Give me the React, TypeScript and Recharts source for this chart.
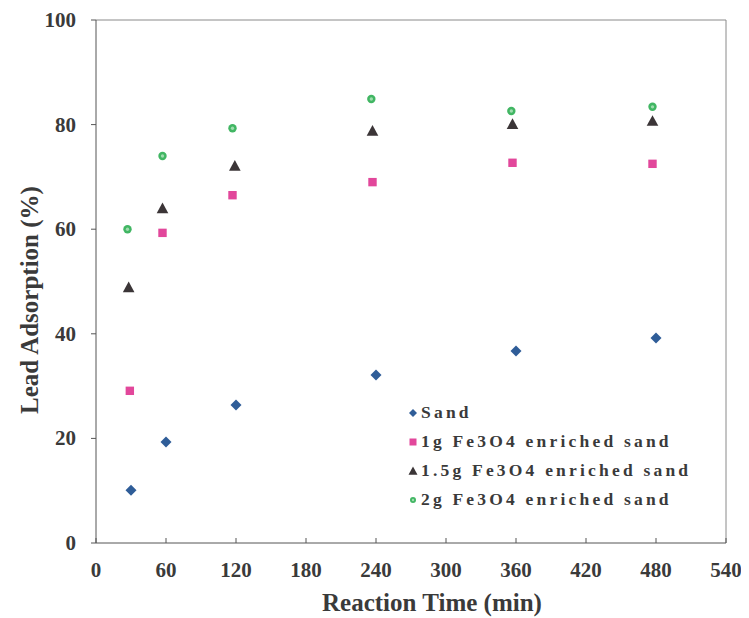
import React from 'react';
import { ScatterChart, Scatter, XAxis, YAxis, ReferenceLine, Legend } from 'recharts';

const xTicks = [0, 60, 120, 180, 240, 300, 360, 420, 480, 540];
const yTicks = [0, 20, 40, 60, 80, 100];

const sandTime = [30, 60, 120, 240, 360, 480];
const sandAds = [10.1, 19.3, 26.4, 32.1, 36.7, 39.2];

const fe1Time = [29, 57, 117, 237, 357, 477];
const fe1Ads = [29.1, 59.3, 66.5, 69.0, 72.7, 72.5];

const fe15Time = [28, 57, 119, 237, 357, 477];
const fe15Ads = [48.9, 64.0, 72.1, 78.8, 80.1, 80.7];

const fe2Time = [27, 57, 117, 236, 356, 477];
const fe2Ads = [60.0, 74.0, 79.3, 84.9, 82.6, 83.4];

const seriesNames = ['Sand', '1g Fe3O4 enriched sand', '1.5g Fe3O4 enriched sand', '2g Fe3O4 enriched sand'];

const toPoints = (xs: number[], ys: number[]) => xs.map((x, i) => ({ x, y: ys[i] }));

const TEXT = '#3a3a3a';
const FONT = '"Liberation Serif", "Times New Roman", serif';

const BLUE = '#2f5d98';
const PINK = '#e2479b';
const DARK = '#3b3537';
const GREEN = '#41b663';

function Diamond({ cx, cy, r = 5.5 }: any) {
  return <polygon points={`${cx},${cy - r} ${cx + r},${cy} ${cx},${cy + r} ${cx - r},${cy}`} fill={BLUE} />;
}
function Square({ cx, cy, r = 4.2 }: any) {
  return <rect x={cx - r} y={cy - r} width={r * 2} height={r * 2} fill={PINK} />;
}
function Triangle({ cx, cy, r = 5.8 }: any) {
  return <polygon points={`${cx},${cy - r} ${cx + r},${cy + r * 0.85} ${cx - r},${cy + r * 0.85}`} fill={DARK} />;
}
function Circle({ cx, cy, r = 4.2 }: any) {
  return (
    <g>
      <circle cx={cx} cy={cy} r={r} fill={GREEN} />
      <circle cx={cx} cy={cy} r={r * 0.4} fill="#9fdcae" />
    </g>
  );
}

const XTick = ({ x, y, payload }: any) => (
  <g>
    <line x1={x} x2={x} y1={y} y2={y - 5} stroke="#555" />
    <text x={x} y={y + 34} textAnchor="middle" fill={TEXT} fontFamily={FONT} fontWeight="bold" fontSize={21}>
      {payload.value}
    </text>
  </g>
);

const YTick = ({ x, y, payload }: any) => (
  <g>
    <line x1={x - 5} x2={x} y1={y} y2={y} stroke="#555" />
    <text x={x - 20} y={y + 7} textAnchor="end" fill={TEXT} fontFamily={FONT} fontWeight="bold" fontSize={21}>
      {payload.value}
    </text>
  </g>
);

const legendMarkers = [
  <Diamond cx={7} cy={7} r={4} />,
  <Square cx={7} cy={7} r={3.5} />,
  <Triangle cx={7} cy={7} r={4.5} />,
  <Circle cx={7} cy={7} r={3} />,
];

const LegendBox = () => (
  <div style={{ fontFamily: FONT, fontWeight: 'bold', fontSize: 17.5, letterSpacing: 3.2, color: TEXT }}>
    {seriesNames.map((name, i) => (
      <div key={name} style={{ display: 'flex', alignItems: 'center', height: 29, whiteSpace: 'nowrap' }}>
        <svg width={14} height={14} style={{ marginRight: 1 }}>
          {legendMarkers[i]}
        </svg>
        <span>{name}</span>
      </div>
    ))}
  </div>
);

export default function App() {
  return (
    <div style={{ background: '#fff' }}>
      <ScatterChart width={741} height={610} margin={{ top: 12, right: 23, left: 28, bottom: 15 }}>
        <XAxis
          type="number"
          dataKey="x"
          domain={[0, 540]}
          ticks={xTicks}
          interval={0}
          height={60}
          tickSize={0}
          tickMargin={0}
          tickLine={false}
          axisLine={{ stroke: '#555' }}
          tick={<XTick />}
          label={{
            content: () => (
              <text x={424} y={603} textAnchor="middle" fill={TEXT} fontFamily={FONT} fontWeight="bold" fontSize={25}>
                Reaction Time (min)
              </text>
            ),
          }}
        />
        <YAxis
          type="number"
          dataKey="y"
          domain={[0, 100]}
          ticks={yTicks}
          interval={0}
          width={60}
          tickSize={0}
          tickMargin={0}
          tickLine={false}
          axisLine={{ stroke: '#555' }}
          tick={<YTick />}
          label={{
            content: () => (
              <text
                x={30}
                y={292}
                transform="rotate(-90 30 292)"
                textAnchor="middle"
                fill={TEXT}
                fontFamily={FONT}
                fontWeight="bold"
                fontSize={25}
              >
                Lead Adsorption (%)
              </text>
            ),
          }}
        />
        <ReferenceLine y={100} stroke="#8a8a8a" />
        <ReferenceLine x={540} stroke="#8a8a8a" />
        <Legend
          layout="vertical"
          align="center"
          verticalAlign="middle"
          content={<LegendBox />}
          wrapperStyle={{ left: 398, top: 390, width: 320 }}
        />
        <Scatter name={seriesNames[0]} data={toPoints(sandTime, sandAds)} shape={<Diamond />} isAnimationActive={false} />
        <Scatter name={seriesNames[1]} data={toPoints(fe1Time, fe1Ads)} shape={<Square />} isAnimationActive={false} />
        <Scatter name={seriesNames[2]} data={toPoints(fe15Time, fe15Ads)} shape={<Triangle />} isAnimationActive={false} />
        <Scatter name={seriesNames[3]} data={toPoints(fe2Time, fe2Ads)} shape={<Circle />} isAnimationActive={false} />
      </ScatterChart>
    </div>
  );
}
